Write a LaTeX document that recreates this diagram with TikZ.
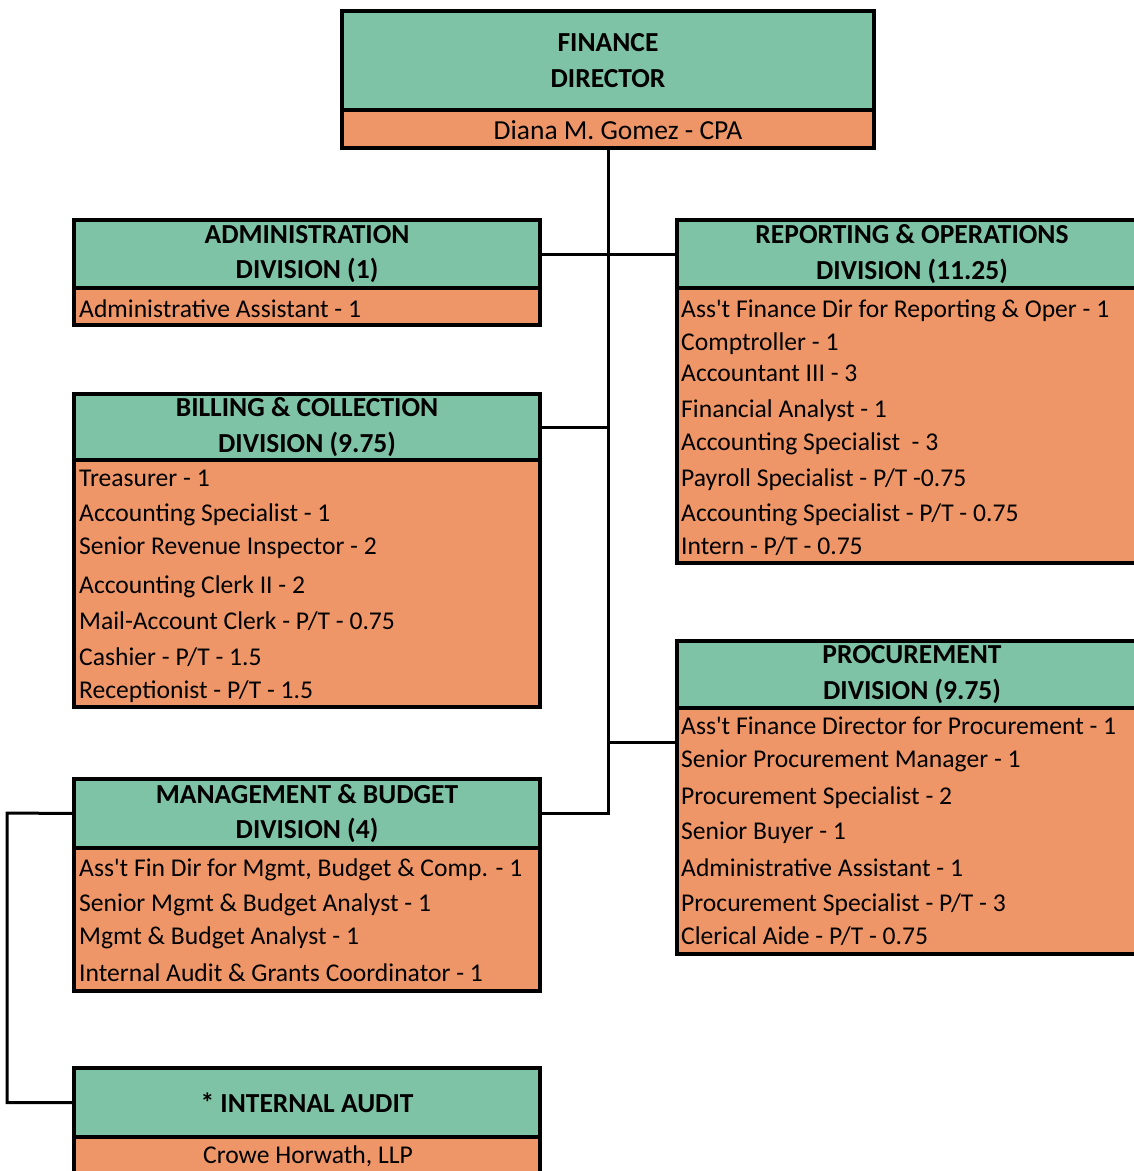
\documentclass[tikz,border=0pt]{standalone}
\usepackage{fontspec}
\setmainfont{Carlito}[Ligatures=TeXOff]
\definecolor{hdgreen}{RGB}{127,195,167}
\definecolor{bdorange}{RGB}{239,150,105}
\begin{document}
\begin{tikzpicture}[x=1pt,y=-1pt,
  box/.style={draw=black, line width=4pt, outer sep=0pt, inner sep=0pt, anchor=north west},
  head/.style={box, fill=hdgreen, align=center, font=\fontsize{27.5}{35.5}\selectfont\bfseries},
  body/.style={box, fill=bdorange},
  item/.style={anchor=base west, inner sep=0pt, font=\fontsize{25.6}{30}\selectfont},
  citem/.style={anchor=base, inner sep=0pt, font=\fontsize{25.6}{30}\selectfont},
  link/.style={draw=black, line width=3pt}]
\useasboundingbox (0,0) rectangle (1134,1171);
\begin{scope}
\clip (0,0) rectangle (1134,1171);

\coordinate (trunkTop) at (608,148);
\coordinate (procIn) at (677,742);
\coordinate (leftRail) at (7,813);

% Finance director
\node[head, minimum width=532pt, minimum height=99pt] (fdH) at (342,11) {FINANCE\\DIRECTOR};
\node[body, minimum width=532pt, minimum height=38pt] (fdB) at (342,110) {};
\node[citem, font=\fontsize{27.5}{30}\selectfont] at (618,139.5) {Diana M. Gomez - CPA};

% Administration
\node[head, minimum width=466pt, minimum height=68pt] (adminH) at (74,220) {ADMINISTRATION\\DIVISION (1)};
\node[body, minimum width=466pt, minimum height=37pt] (adminB) at (74,288) {};
\node[item] at (79,317) {Administrative Assistant - 1};

% Reporting & operations
\node[head, minimum width=470pt, minimum height=68pt] (repH) at (677,220) {REPORTING \& OPERATIONS\\DIVISION (11.25)};
\node[body, minimum width=470pt, minimum height=275pt] (repB) at (677,288) {};
\foreach \y/\t in {317/{Ass't Finance Dir for Reporting \& Oper - 1},
                   350/{Comptroller - 1},
                   381/{Accountant III - 3},
                   417/{Financial Analyst - 1},
                   450/{Accounting Specialist\ \ - 3},
                   486/{Payroll Specialist - P/T -0.75},
                   521/{Accounting Specialist - P/T - 0.75},
                   554/{Intern - P/T - 0.75}}
  \node[item] at (681,\y) {\t};

% Billing & collection
\node[head, minimum width=466pt, minimum height=66pt] (billH) at (74,394) {BILLING \& COLLECTION\\DIVISION (9.75)};
\node[body, minimum width=466pt, minimum height=247pt] (billB) at (74,460) {};
\foreach \y/\t in {486/{Treasurer - 1},
                   521/{Accounting Specialist - 1},
                   554/{Senior Revenue Inspector - 2},
                   593/{Accounting Clerk II - 2},
                   629/{Mail-Account Clerk - P/T - 0.75},
                   665/{Cashier - P/T - 1.5},
                   698/{Receptionist - P/T - 1.5}}
  \node[item] at (79,\y) {\t};

% Procurement
\node[head, minimum width=470pt, minimum height=67pt] (procH) at (677,641) {PROCUREMENT\\DIVISION (9.75)};
\node[body, minimum width=470pt, minimum height=246pt] (procB) at (677,708) {};
\foreach \y/\t in {734/{Ass't Finance Director for Procurement - 1},
                   767/{Senior Procurement Manager - 1},
                   804/{Procurement Specialist - 2},
                   839/{Senior Buyer - 1},
                   876/{Administrative Assistant - 1},
                   911/{Procurement Specialist - P/T - 3},
                   944/{Clerical Aide - P/T - 0.75}}
  \node[item] at (681,\y) {\t};

% Management & budget
\node[head, minimum width=466pt, minimum height=69pt] (mgmtH) at (74,779) {MANAGEMENT \& BUDGET\\DIVISION (4)};
\node[body, minimum width=466pt, minimum height=143pt] (mgmtB) at (74,848) {};
\foreach \y/\t in {876/{Ass't Fin Dir for Mgmt, Budget \& Comp. - 1},
                   911/{Senior Mgmt \& Budget Analyst - 1},
                   944/{Mgmt \& Budget Analyst - 1},
                   981/{Internal Audit \& Grants Coordinator - 1}}
  \node[item] at (79,\y) {\t};

% Internal audit
\node[head, minimum width=466pt, minimum height=69pt] (auditH) at (74,1068) {* INTERNAL AUDIT};
\node[body, minimum width=466pt, minimum height=50pt] (auditB) at (74,1137) {};
\node[citem] at (308,1163) {Crowe Horwath, LLP};

% reporting lines
\draw[link] (fdB.south) |- (mgmtH.east);
\draw[link] (adminH.east) -- (repH.west);
\draw[link] (billH.east) -- (billH.east -| trunkTop);
\draw[link] (procIn) -- (procIn -| trunkTop);
\draw[link] (mgmtH.west) -- (leftRail) |- (auditH.west);
\end{scope}
\end{tikzpicture}
\end{document}
